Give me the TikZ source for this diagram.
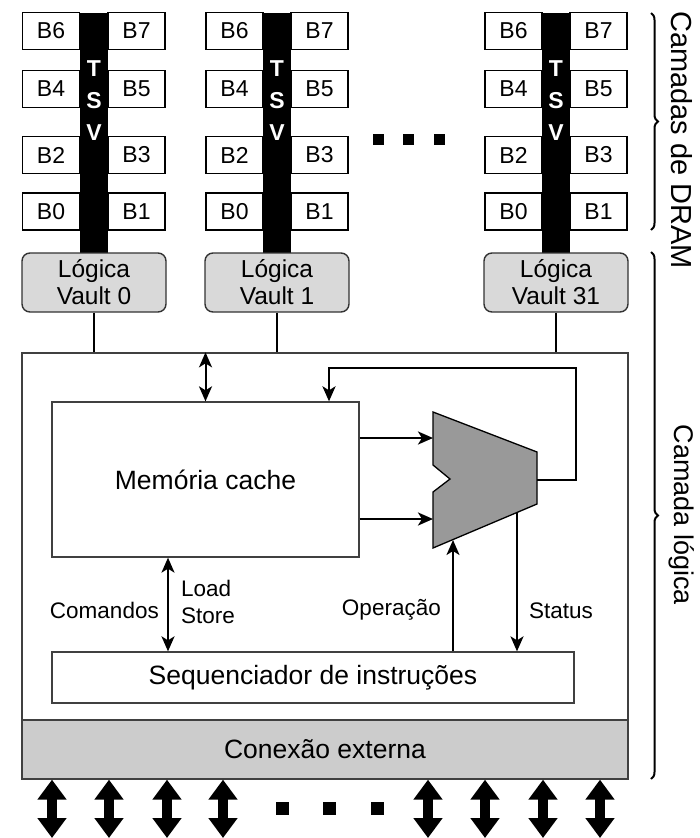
\documentclass[tikz,border=0pt]{standalone}
\usepackage{fontspec}
\setmainfont{Liberation Sans}
\usetikzlibrary{arrows.meta,decorations.pathreplacing}

\begin{document}
\begin{tikzpicture}[x=1pt,y=-1pt,
  every node/.style={inner sep=0pt},
  bank/.style={draw,line width=1.8pt,fill=white,minimum width=57pt,minimum height=37pt,font=\fontsize{23}{24}\selectfont},
  tsvbar/.style={fill=black,minimum width=28pt,minimum height=240pt},
  tsvtxt/.style={text=white,align=center,font=\fontsize{23}{32}\selectfont\bfseries},
  vlogic/.style={draw=black!80,line width=1.4pt,fill=gray!30,rounded corners=8pt,minimum width=144pt,minimum height=59pt,align=center,font=\fontsize{24.5}{27}\selectfont},
  block/.style={draw=black!75,line width=1.3pt,fill=white,font=\fontsize{26.5}{30}\selectfont},
  lbl/.style={font=\fontsize{22.5}{27}\selectfont,align=left},
  side/.style={rotate=-90,font=\fontsize{27}{30}\selectfont},
  wire/.style={line width=2.6pt},
  sig/.style={line width=2pt,-{Stealth[length=15pt,width=13pt,inset=4pt]}},
  sigboth/.style={line width=2pt,{Stealth[length=15pt,width=13pt,inset=4pt]}-{Stealth[length=15pt,width=13pt,inset=4pt]}},
  bus/.style={line width=10pt,{Triangle[length=20pt,width=28pt]}-{Triangle[length=20pt,width=28pt]}},
  dot/.style={fill=black,minimum size=11pt},
  brace/.style={decorate,decoration={brace,amplitude=7pt},line width=2pt}]
\useasboundingbox (0,0) rectangle (700,838);

% vault 0
\node[tsvbar] (tsv0) at (94,133) {};
\node[tsvtxt] at (94,101) {T\\S\\V};
\node[bank] (b06) at (51,31) {B6};
\node[bank] (b07) at (136.5,31) {B7};
\node[bank] (b04) at (51,89) {B4};
\node[bank] (b05) at (136.5,89) {B5};
\node[bank] (b02) at (51,155) {B2};
\node[bank] (b03) at (136.5,155) {B3};
\node[bank] (b00) at (51,211.5) {B0};
\node[bank] (b01) at (136.5,211.5) {B1};
\node[vlogic] (lv0) at (94,282.5) {Lógica\\Vault 0};

% vault 1
\node[tsvbar] (tsv1) at (277,133) {};
\node[tsvtxt] at (277,101) {T\\S\\V};
\node[bank] (b16) at (234.5,31) {B6};
\node[bank] (b17) at (319.5,31) {B7};
\node[bank] (b14) at (234.5,89) {B4};
\node[bank] (b15) at (319.5,89) {B5};
\node[bank] (b12) at (234.5,155) {B2};
\node[bank] (b13) at (319.5,155) {B3};
\node[bank] (b10) at (234.5,211.5) {B0};
\node[bank] (b11) at (319.5,211.5) {B1};
\node[vlogic] (lv1) at (277,282.5) {Lógica\\Vault 1};

% dots between vaults
\node[dot] (d1) at (378,139) {};
\node[dot] (d2) at (408,139) {};
\node[dot] (d3) at (439,139) {};

% vault 31
\node[tsvbar] (tsv31) at (556,133) {};
\node[tsvtxt] at (556,101) {T\\S\\V};
\node[bank] (b316) at (513.5,31) {B6};
\node[bank] (b317) at (598.5,31) {B7};
\node[bank] (b314) at (513.5,89) {B4};
\node[bank] (b315) at (598.5,89) {B5};
\node[bank] (b312) at (513.5,155) {B2};
\node[bank] (b313) at (598.5,155) {B3};
\node[bank] (b310) at (513.5,211.5) {B0};
\node[bank] (b311) at (598.5,211.5) {B1};
\node[vlogic] (lv31) at (556,282.5) {Lógica\\Vault 31};

% logic layer
\node[block,minimum width=606pt,minimum height=426pt] (hmc) at (325,566) {};
\node[block,fill=gray!40,minimum width=606pt,minimum height=59pt] (conn) at (325,749.5) {Conexão externa};
\node[block,minimum width=307pt,minimum height=155pt] (cache) at (205.5,479.5) {Memória cache};
\node[block,minimum width=522pt,minimum height=51pt] (seq) at (313,677.5) {Sequenciador de instruções};

% ALU
\draw[fill=gray!80,line width=1.3pt,line join=miter] (433,412) -- (537,452) -- (537,504) -- (433,548) -- (433,492) -- (450,479) -- (433,465) -- cycle;
\coordinate (aluin1) at (433,438);
\coordinate (aluin2) at (433,519);
\coordinate (aluout) at (537,480);
\coordinate (aluop) at (453,540);
\coordinate (alust) at (517,513);
\coordinate (fb) at (329,368);

\draw[wire] (lv0.south) -- (hmc.north -| lv0.south);
\draw[wire] (lv1.south) -- (hmc.north -| lv1.south);
\draw[wire] (lv31.south) -- (hmc.north -| lv31.south);
\draw[sigboth] (hmc.north -| cache.north) -- (cache.north);
\draw[wire,-{Stealth[length=15pt,width=13pt,inset=4pt]}] (aluin1 -| cache.east) -- (aluin1);
\draw[wire,-{Stealth[length=15pt,width=13pt,inset=4pt]}] (aluin2 -| cache.east) -- (aluin2);
\draw[wire,-{Stealth[length=15pt,width=13pt,inset=4pt]}] (aluout) -- (576,480) |- (fb) -- (fb |- cache.north);
\draw[sigboth] (cache.south -| 168,0) -- (seq.north -| 168,0);
\draw[sig] (seq.north -| aluop) -- (aluop);
\draw[sig] (alust) -- (seq.north -| alust);
\node[lbl,anchor=east] (cmd) at (159,610) {Comandos};
\node[lbl,anchor=west] (ldst) at (181,602) {Load\\Store};
\node[lbl,anchor=east] (op) at (441,610) {Operação};
\node[lbl,anchor=west] (st) at (529,611) {Status};

% external links
\coordinate (p1) at (52,838);
\coordinate (p2) at (109,838);
\coordinate (p3) at (167,838);
\coordinate (p4) at (223,838);
\coordinate (p5) at (428,838);
\coordinate (p6) at (485,838);
\coordinate (p7) at (543,838);
\coordinate (p8) at (600,838);
\draw[bus] (conn.south -| p1) -- (p1);
\draw[bus] (conn.south -| p2) -- (p2);
\draw[bus] (conn.south -| p3) -- (p3);
\draw[bus] (conn.south -| p4) -- (p4);
\draw[bus] (conn.south -| p5) -- (p5);
\draw[bus] (conn.south -| p6) -- (p6);
\draw[bus] (conn.south -| p7) -- (p7);
\draw[bus] (conn.south -| p8) -- (p8);
\node[dot,minimum size=13pt] (e1) at (282,808) {};
\node[dot,minimum size=13pt] (e2) at (329,808) {};
\node[dot,minimum size=13pt] (e3) at (377,808) {};

% layer braces
\draw[brace] (651,13) -- (651,230);
\draw[brace] (651,252) -- (651,779);
\node[side,font=\fontsize{29}{32}\selectfont] (dram) at (682,140) {Camadas de DRAM};
\node[side] (logl) at (682,515) {Camada lógica};
\end{tikzpicture}
\end{document}
